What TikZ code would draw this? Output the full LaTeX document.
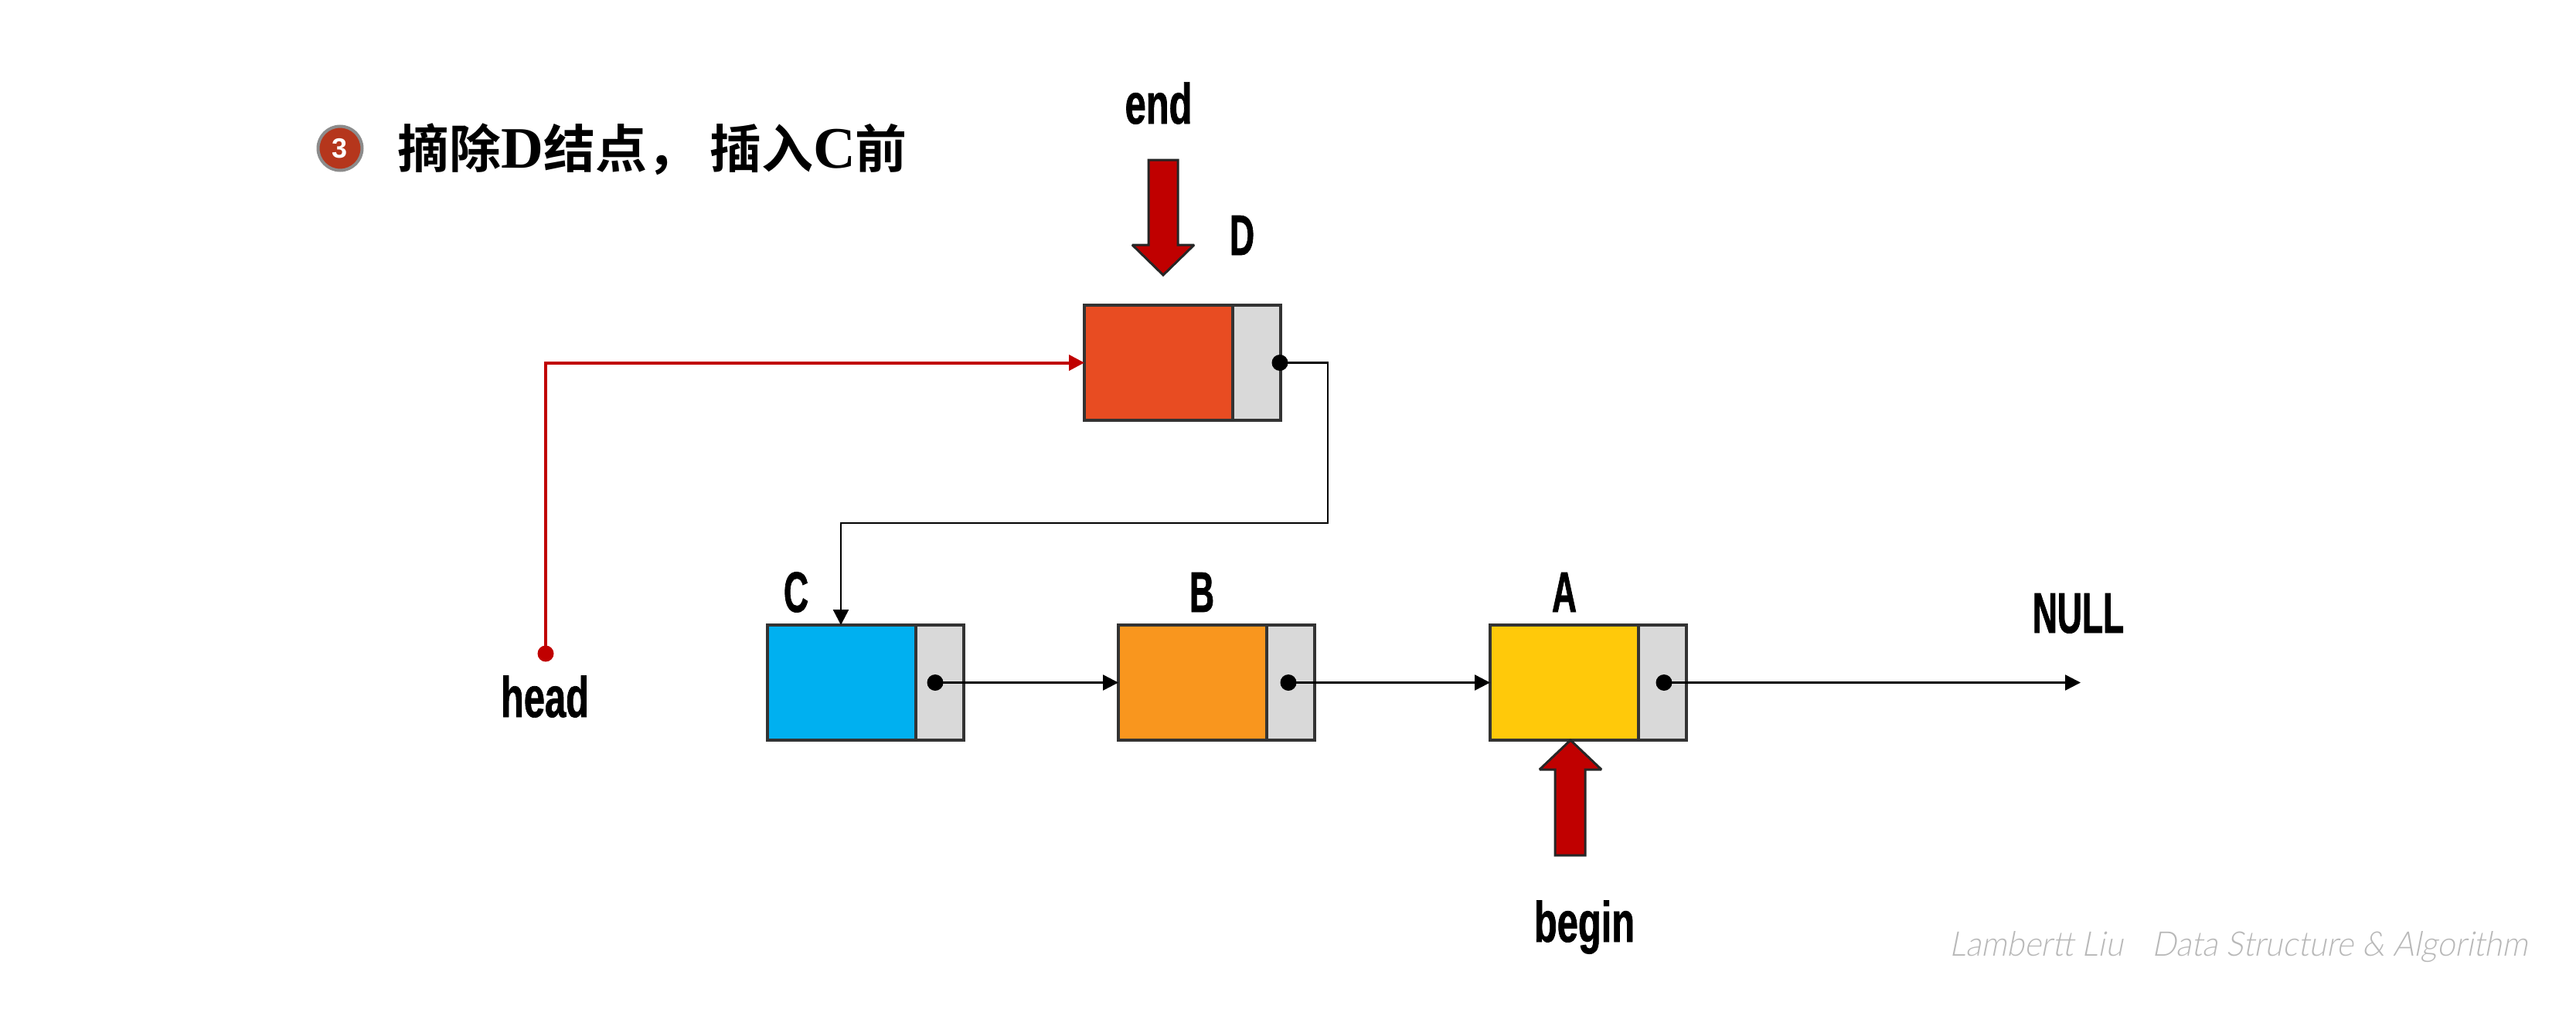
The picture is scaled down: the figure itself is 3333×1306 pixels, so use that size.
\documentclass[tikz,border=0pt]{standalone}
\usepackage{fontspec}
\usetikzlibrary{arrows.meta}
\newfontfamily\condfont[FakeStretch=0.66,FakeBold=1.0]{Liberation Sans Bold}
\newfontfamily\capfont[FakeStretch=0.6,FakeBold=1.0]{Liberation Sans Bold}
\newfontfamily\badgefont{Liberation Sans Bold}
\newfontfamily\cjkfont{Noto Sans CJK SC Bold}
\newfontfamily\latserif{Liberation Serif Bold}
\newfontfamily\wmfont[FakeSlant=0.2,FakeStretch=0.94]{Lato Light}
\definecolor{edgedark}{HTML}{333333}
\definecolor{ptrgray}{HTML}{D9D9D9}
\definecolor{redmain}{HTML}{C00000}
\definecolor{dcol}{HTML}{E84C22}
\definecolor{ccol}{HTML}{00B0F0}
\definecolor{bcol}{HTML}{F9961E}
\definecolor{acol}{HTML}{FFC90A}
\definecolor{wmcol}{HTML}{B8B8B8}
\definecolor{badgecol}{HTML}{B5361C}
\definecolor{badgerim}{HTML}{8C8C8C}
\tikzset{
  datacell/.style={draw=edgedark,line width=3.5pt,outer sep=0pt,minimum width=192pt,minimum height=149pt,inner sep=0pt,anchor=north west},
  ptrcell/.style={draw=edgedark,line width=3.5pt,outer sep=0pt,fill=ptrgray,minimum width=62pt,minimum height=149pt,inner sep=0pt,anchor=north west},
  ptrdot/.style={circle,fill=black,minimum size=21pt,inner sep=0pt},
  reddot/.style={circle,fill=redmain,minimum size=21pt,inner sep=0pt},
  link/.style={draw=black,line width=2.5pt,-{Triangle[length=20pt,width=20pt]}},
  redlink/.style={draw=redmain,line width=4pt,-{Triangle[length=20pt,width=20pt]}},
  blockarrow/.style={draw=black!85,line width=3pt,fill=redmain,miter limit=2},
  cond/.style={inner sep=0pt,anchor=base,text=black,font=\condfont\fontsize{74}{80}\selectfont},
  capslabel/.style={inner sep=0pt,anchor=base,text=black,font=\capfont\fontsize{74}{80}\selectfont},
}
\begin{document}
\begin{tikzpicture}[x=1pt,y=-1pt]
\useasboundingbox (0,0) rectangle (3333,1306);
% title
\node[circle,fill=badgecol,draw=badgerim,line width=4pt,minimum size=57pt,inner sep=0pt,text=white,font=\badgefont\fontsize{36}{40}\selectfont] (badge) at (440,192) {3};
\node[inner sep=0pt,anchor=base west,font=\fontsize{67}{70}\selectfont] (title) at (514,217)
  {\cjkfont 摘除\latserif\fontsize{76}{70}\selectfont D\cjkfont\fontsize{67}{70}\selectfont 结点，\hspace{14pt}插入\latserif\fontsize{76}{70}\selectfont C\cjkfont\fontsize{67}{70}\selectfont 前};
% list cells
\node[datacell,fill=dcol] (dataD) at (1403,395) {};
\node[ptrcell] (ptrD) at (1595,395) {};
\node[datacell,fill=ccol] (dataC) at (993,809) {};
\node[ptrcell] (ptrC) at (1185,809) {};
\node[datacell,fill=bcol] (dataB) at (1447,809) {};
\node[ptrcell] (ptrB) at (1639,809) {};
\node[datacell,fill=acol] (dataA) at (1928,809) {};
\node[ptrcell] (ptrA) at (2120,809) {};
% dots
\node[ptrdot] (dotD) at (1656,469.5) {};
\node[ptrdot] (dotC) at (1210,883.5) {};
\node[ptrdot] (dotB) at (1667,883.5) {};
\node[ptrdot] (dotA) at (2153,883.5) {};
\node[reddot] (dotH) at (706,846) {};
% connectors
\coordinate (turnR) at (1718,469.5);
\coordinate (turnRb) at (1718,677);
\coordinate (turnL) at (1088,677);
\coordinate (nullEnd) at (2692,883.5);
\draw[link] (dotD.center) -- (turnR) -- (turnRb) -- (turnL) -- (turnL |- dataC.north);
\draw[link] (dotC.center) -- (dataB.west);
\draw[link] (dotB.center) -- (dataA.west);
\draw[link] (dotA.center) -- (nullEnd);
\draw[redlink] (dotH.center) |- (dataD.west);
% block arrows
\draw[blockarrow] (1486,207) -- (1524,207) -- (1524,317) -- (1545,317) -- (1505,356) -- (1465,317) -- (1486,317) -- cycle;
\draw[blockarrow] (2012,1107) -- (2051,1107) -- (2051,996) -- (2072,996) -- (2032,958) -- (1992,996) -- (2012,996) -- cycle;
% labels
\node[cond] (lEnd) at (1499,160) {end};
\node[capslabel] (lD) at (1607,330) {D};
\node[capslabel] (lC) at (1030,792) {C};
\node[capslabel] (lB) at (1555,792) {B};
\node[capslabel] (lA) at (2024,792) {A};
\node[capslabel] (lNull) at (2689,819) {NULL};
\node[cond] (lHead) at (705,928) {head};
\node[cond] (lBegin) at (2050,1219) {begin};
% watermark
\node[inner sep=0pt,anchor=base west,text=wmcol,font=\wmfont\fontsize{44}{48}\selectfont] (wm) at (2522,1237) {Lambertt Liu\hspace{38pt}Data Structure \& Algorithm};
\end{tikzpicture}
\end{document}
